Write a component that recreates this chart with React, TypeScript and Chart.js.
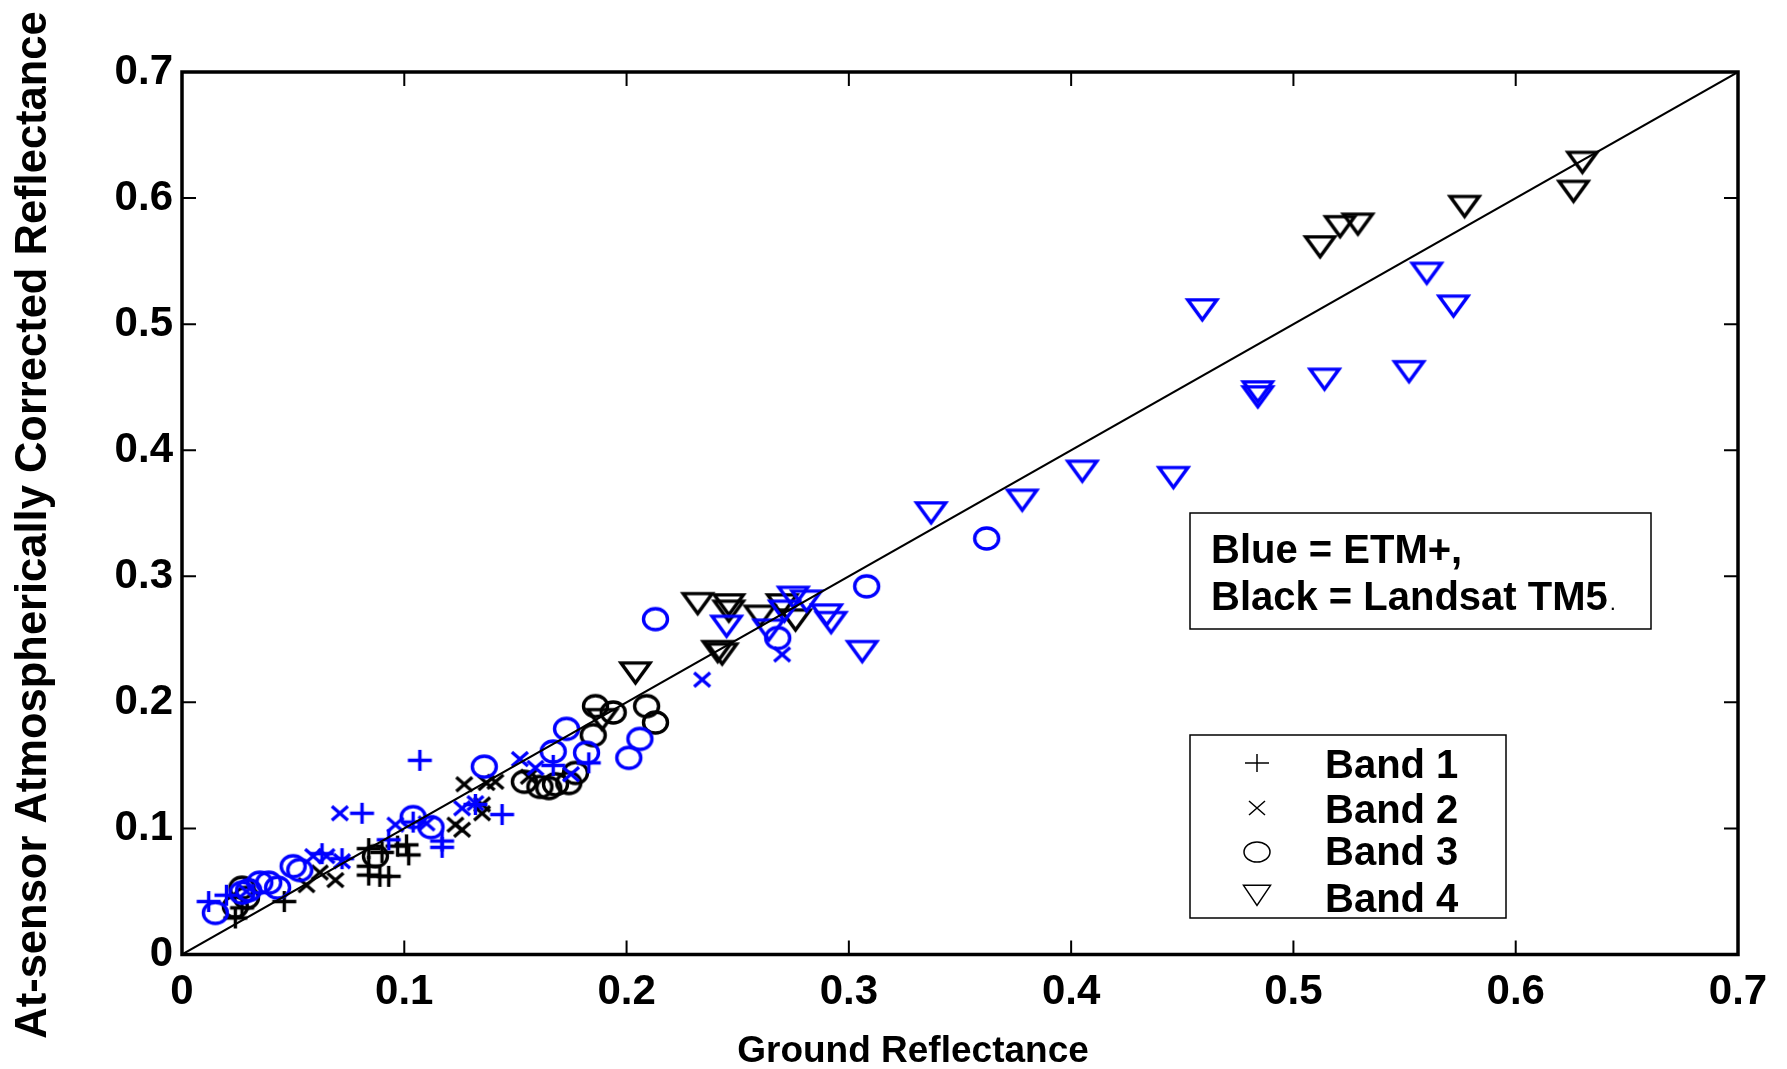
import { useEffect, useRef } from 'react';
import { Chart, registerables } from 'chart.js';

Chart.register(...registerables);

const FONT = '"Liberation Sans", Arial, Helvetica, sans-serif';
const BLUE = '#0000ff';
const BLACK = '#000000';

const xTickLabels = ['0', '0.1', '0.2', '0.3', '0.4', '0.5', '0.6', '0.7'];
const yTickLabels = ['0', '0.1', '0.2', '0.3', '0.4', '0.5', '0.6', '0.7'];
const xTitle = 'Ground Reflectance';
const yTitle = 'At-sensor Atmospherically Corrected Reflectance';
const noteLines = ['Blue = ETM+,', 'Black = Landsat TM5'];
const bandNames = ['Band 1', 'Band 2', 'Band 3', 'Band 4'];

const oneToOne: [number, number][] = [[0, 0], [0.7, 0.7]];

// ETM+ (blue)
const etmBand1: [number, number][] = [
  [0.012, 0.042], [0.020, 0.047], [0.063, 0.080], [0.072, 0.076], [0.081, 0.112], [0.093, 0.091],
  [0.104, 0.105], [0.107, 0.154], [0.117, 0.090], [0.117, 0.085], [0.132, 0.119], [0.144, 0.111],
  [0.167, 0.150], [0.183, 0.152],
];
const etmBand2: [number, number][] = [
  [0.029, 0.050], [0.059, 0.078], [0.065, 0.078], [0.072, 0.074], [0.071, 0.112], [0.096, 0.103],
  [0.110, 0.104], [0.126, 0.116], [0.132, 0.120], [0.152, 0.155], [0.159, 0.148], [0.175, 0.143],
  [0.234, 0.218], [0.270, 0.238],
];
const etmBand3: [number, number][] = [
  [0.015, 0.033], [0.027, 0.049], [0.030, 0.051], [0.035, 0.057], [0.039, 0.057], [0.043, 0.053],
  [0.050, 0.070], [0.053, 0.067], [0.104, 0.109], [0.112, 0.101], [0.136, 0.149], [0.167, 0.161],
  [0.173, 0.179], [0.182, 0.160], [0.201, 0.156], [0.206, 0.171], [0.213, 0.266], [0.268, 0.251],
  [0.308, 0.292], [0.362, 0.330],
];
const etmBand4: [number, number][] = [
  [0.245, 0.263], [0.264, 0.260], [0.271, 0.275], [0.275, 0.286], [0.281, 0.283], [0.290, 0.272],
  [0.292, 0.266], [0.306, 0.243], [0.337, 0.353], [0.378, 0.363], [0.405, 0.386], [0.446, 0.381],
  [0.459, 0.514], [0.484, 0.449], [0.484, 0.445], [0.514, 0.459], [0.552, 0.465], [0.560, 0.543],
  [0.572, 0.517],
];

// Landsat TM5 (black)
const tmBand1: [number, number][] = [
  [0.024, 0.029], [0.027, 0.037], [0.046, 0.042], [0.084, 0.070], [0.084, 0.084], [0.090, 0.081],
  [0.097, 0.086], [0.101, 0.087], [0.102, 0.079], [0.084, 0.063], [0.089, 0.062], [0.093, 0.062],
];
const tmBand2: [number, number][] = [
  [0.056, 0.055], [0.062, 0.065], [0.069, 0.059], [0.123, 0.103], [0.126, 0.099], [0.135, 0.119],
  [0.135, 0.112], [0.127, 0.135], [0.137, 0.136], [0.141, 0.137], [0.156, 0.141],
];
const tmBand3: [number, number][] = [
  [0.024, 0.038], [0.027, 0.053], [0.029, 0.045], [0.087, 0.078], [0.154, 0.137], [0.161, 0.133],
  [0.165, 0.132], [0.168, 0.135], [0.174, 0.136], [0.177, 0.144], [0.185, 0.174], [0.186, 0.197],
  [0.194, 0.192], [0.209, 0.197], [0.213, 0.184],
];
const tmBand4: [number, number][] = [
  [0.189, 0.189], [0.204, 0.226], [0.232, 0.281], [0.241, 0.243], [0.243, 0.241], [0.246, 0.280],
  [0.246, 0.275], [0.260, 0.271], [0.270, 0.280], [0.276, 0.268], [0.512, 0.564], [0.521, 0.580],
  [0.529, 0.582], [0.577, 0.596], [0.626, 0.608], [0.630, 0.631],
];

type Kind = 'plus' | 'cross' | 'circle' | 'tri';

const kinds: Kind[] = ['plus', 'cross', 'circle', 'tri'];

function drawShape(ctx: CanvasRenderingContext2D, kind: Kind, cx: number, cy: number, w: number, h: number) {
  ctx.beginPath();
  if (kind === 'plus') {
    ctx.moveTo(cx - w / 2, cy);
    ctx.lineTo(cx + w / 2, cy);
    ctx.moveTo(cx, cy - h / 2);
    ctx.lineTo(cx, cy + h / 2);
  } else if (kind === 'cross') {
    ctx.moveTo(cx - w / 2, cy - h / 2);
    ctx.lineTo(cx + w / 2, cy + h / 2);
    ctx.moveTo(cx + w / 2, cy - h / 2);
    ctx.lineTo(cx - w / 2, cy + h / 2);
  } else if (kind === 'circle') {
    ctx.ellipse(cx, cy, w / 2, h / 2, 0, 0, Math.PI * 2);
  } else {
    ctx.moveTo(cx - w / 2, cy - h / 3);
    ctx.lineTo(cx + w / 2, cy - h / 3);
    ctx.lineTo(cx, cy + (2 * h) / 3);
    ctx.closePath();
  }
  ctx.stroke();
}

const plotSize: Record<Kind, [number, number]> = {
  plus: [24, 21],
  cross: [16, 14],
  circle: [24, 21],
  tri: [29, 20],
};
const legendSize: Record<Kind, [number, number]> = {
  plus: [24, 18],
  cross: [16, 14],
  circle: [26, 20],
  tri: [27, 20],
};

function makeMarker(kind: Kind, color: string): HTMLCanvasElement {
  const [w, h] = plotSize[kind];
  const c = document.createElement('canvas');
  const S = Math.ceil(Math.max(w, h) * 1.6) + 8;
  c.width = S;
  c.height = S;
  const ctx = c.getContext('2d')!;
  ctx.strokeStyle = color;
  ctx.lineWidth = 3.4;
  ctx.lineJoin = 'miter';
  drawShape(ctx, kind, S / 2, S / 2, w, h);
  return c;
}

const toXY = (arr: [number, number][]) => arr.map(([x, y]) => ({ x, y }));

export default function App() {
  const ref = useRef<HTMLCanvasElement>(null);

  useEffect(() => {
    const canvas = ref.current!;
    const blueSeries = [etmBand1, etmBand2, etmBand3, etmBand4];
    const blackSeries = [tmBand1, tmBand2, tmBand3, tmBand4];

    const datasets: any[] = [
      {
        label: '1:1',
        data: toXY(oneToOne),
        showLine: true,
        pointRadius: 0,
        borderColor: BLACK,
        borderWidth: 2,
        fill: false,
      },
    ];
    blueSeries.forEach((d, i) => {
      datasets.push({
        label: 'ETM+ ' + bandNames[i],
        data: toXY(d),
        pointStyle: makeMarker(kinds[i], BLUE),
        pointRadius: 5,
        showLine: false,
      });
    });
    blackSeries.forEach((d, i) => {
      datasets.push({
        label: 'TM5 ' + bandNames[i],
        data: toXY(d),
        pointStyle: makeMarker(kinds[i], BLACK),
        pointRadius: 5,
        showLine: false,
      });
    });

    const framePlugin = {
      id: 'matlabFrame',
      afterDraw(chart: any) {
        const ctx: CanvasRenderingContext2D = chart.ctx;
        const { left, right, top, bottom } = chart.chartArea;
        const xs = chart.scales.x;
        const ys = chart.scales.y;
        ctx.save();
        // ticks (inward, all four sides)
        ctx.strokeStyle = BLACK;
        ctx.lineWidth = 2;
        const tl = 14;
        ctx.beginPath();
        xs.ticks.forEach((t: any) => {
          const px = xs.getPixelForValue(t.value);
          ctx.moveTo(px, bottom);
          ctx.lineTo(px, bottom - tl);
          ctx.moveTo(px, top);
          ctx.lineTo(px, top + tl);
        });
        ys.ticks.forEach((t: any) => {
          const py = ys.getPixelForValue(t.value);
          ctx.moveTo(left, py);
          ctx.lineTo(left + tl, py);
          ctx.moveTo(right, py);
          ctx.lineTo(right - tl, py);
        });
        ctx.stroke();
        // box
        ctx.lineWidth = 3.5;
        ctx.strokeRect(left, top, right - left, bottom - top);

        // titles
        ctx.fillStyle = BLACK;
        ctx.font = `bold 37px ${FONT}`;
        ctx.textAlign = 'center';
        ctx.textBaseline = 'alphabetic';
        ctx.fillText(xTitle, 913, 1062);

        ctx.save();
        ctx.translate(46, 525);
        ctx.rotate(-Math.PI / 2);
        ctx.font = `bold 43.5px ${FONT}`;
        ctx.fillText(yTitle, 0, 0);
        ctx.restore();

        // note box
        ctx.lineWidth = 1.5;
        ctx.fillStyle = '#ffffff';
        ctx.fillRect(1190, 513, 461, 116);
        ctx.strokeRect(1190, 513, 461, 116);
        ctx.fillStyle = BLACK;
        ctx.textAlign = 'left';
        ctx.font = `bold 40px ${FONT}`;
        ctx.fillText(noteLines[0], 1211, 563);
        ctx.fillText(noteLines[1], 1211, 610);
        const w2 = ctx.measureText(noteLines[1]).width;
        ctx.font = `22px ${FONT}`;
        ctx.fillText('.', 1211 + w2 + 2, 610);

        // band legend
        ctx.fillStyle = '#ffffff';
        ctx.fillRect(1190, 735, 316, 183);
        ctx.strokeRect(1190, 735, 316, 183);
        const markerY = [763, 808, 852, 892];
        const textY = [778, 823, 865, 912];
        ctx.strokeStyle = BLACK;
        ctx.lineWidth = 1.5;
        kinds.forEach((k, i) => {
          const [w, h] = legendSize[k];
          drawShape(ctx, k, 1257, markerY[i], w, h);
        });
        ctx.fillStyle = BLACK;
        ctx.font = `bold 40px ${FONT}`;
        bandNames.forEach((n, i) => ctx.fillText(n, 1325, textY[i]));
        ctx.restore();
      },
    };

    const chart = new Chart(canvas, {
      type: 'scatter',
      data: { datasets },
      options: {
        responsive: false,
        animation: false,
        events: [],
        layout: { padding: { left: 0, top: 72, right: 49, bottom: 0 } },
        plugins: { legend: { display: false }, tooltip: { enabled: false } },
        scales: {
          x: {
            type: 'linear',
            min: 0,
            max: 0.7,
            grid: { display: false, drawTicks: false },
            border: { display: false },
            ticks: {
              stepSize: 0.1,
              padding: 13,
              color: BLACK,
              maxRotation: 0,
              autoSkip: false,
              font: { family: FONT, size: 42, weight: 'bold' },
              callback: (_v: any, i: number) => xTickLabels[i] ?? '',
            },
            afterFit: (s: any) => {
              s.height = 114.5;
            },
          },
          y: {
            type: 'linear',
            min: 0,
            max: 0.7,
            grid: { display: false, drawTicks: false },
            border: { display: false },
            ticks: {
              stepSize: 0.1,
              padding: 9,
              color: BLACK,
              autoSkip: false,
              font: { family: FONT, size: 42, weight: 'bold' },
              callback: (_v: any, i: number) => yTickLabels[i] ?? '',
            },
            afterFit: (s: any) => {
              s.width = 182;
            },
          },
        },
      } as any,
      plugins: [framePlugin],
    });

    return () => chart.destroy();
  }, []);

  return (
    <div style={{ position: 'fixed', left: 0, top: 0, width: 1787, height: 1069, background: '#ffffff' }}>
      <canvas ref={ref} width={1787} height={1069} style={{ display: 'block', width: 1787, height: 1069 }} />
    </div>
  );
}
